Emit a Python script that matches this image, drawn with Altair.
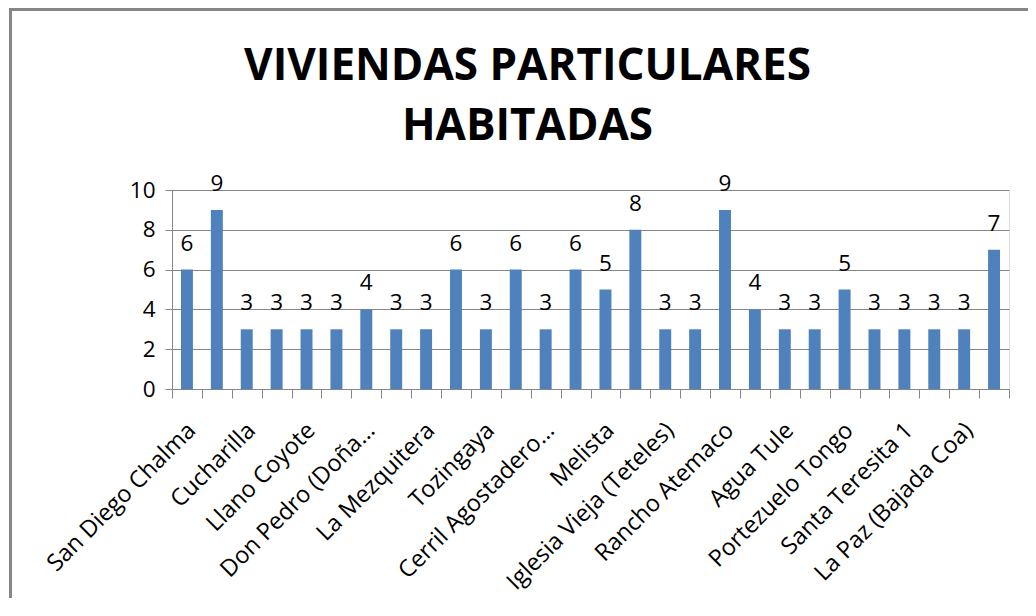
import json
import altair as alt
import pandas as pd

# ---- data ----
valores = [6, 9, 3, 3, 3, 3, 4, 3, 3, 6, 3, 6, 3, 6, 5, 8, 3, 3, 9, 4, 3, 3, 5, 3, 3, 3, 3, 7]
etiquetas = [
    "San Diego Chalma", "", "Cucharilla", "", "Llano Coyote", "",
    "Don Pedro (Doña…", "", "La Mezquitera", "", "Tozingaya", "",
    "Cerril Agostadero…", "", "Melista", "", "Iglesia Vieja (Teteles)", "",
    "Rancho Atemaco", "", "Agua Tule", "", "Portezuelo Tongo", "",
    "Santa Teresita 1", "", "La Paz (Bajada Coa)", "",
]
titulo = ["VIVIENDAS PARTICULARES", "HABITADAS"]
y_ticks = [0, 2, 4, 6, 8, 10]

df = pd.DataFrame({"i": list(range(len(valores))), "v": valores})

FONT = "Open Sans"
GRAY = "#868686"
BLUE = "#4F81BD"

label_expr = json.dumps(etiquetas, ensure_ascii=False) + "[datum.value]"

x_enc = alt.X(
    "i:O",
    scale=alt.Scale(paddingInner=0, paddingOuter=0),
    axis=alt.Axis(
        title=None,
        labelExpr=label_expr,
        labelAngle=-45,
        labelFontSize=23.5,
        labelFont=FONT,
        labelColor="black",
        labelPadding=20,
        labelOffset=-4,
        labelLimit=0,
        tickBand="extent",
        tickSize=9,
        tickColor=GRAY,
        domainColor=GRAY,
        grid=False,
        labelOverlap=False,
    ),
)
y_enc = alt.Y(
    "v:Q",
    scale=alt.Scale(domain=[0, 10], nice=False),
    axis=alt.Axis(
        title=None,
        values=y_ticks,
        labelFontSize=22.5,
        labelFont=FONT,
        labelColor="black",
        labelPadding=10,
        tickSize=7,
        tickColor=GRAY,
        domainColor=GRAY,
        gridColor=GRAY,
        gridWidth=1,
    ),
)

base = alt.Chart(df)
bars = base.mark_bar(color=BLUE, width=alt.RelativeBandSize(0.4)).encode(x=x_enc, y=y_enc)
texts = base.mark_text(
    font=FONT, fontSize=22.5, color="black", baseline="alphabetic", dy=-19
).encode(x=x_enc, y=y_enc, text="v:Q")

frame_df = pd.DataFrame({"k": [0]})
left_border = alt.Chart(frame_df).mark_rule(color=GRAY, strokeWidth=3).encode(
    x=alt.value(-161.5), y=alt.value(-182), y2=alt.value(410)
)
top_border = alt.Chart(frame_df).mark_rule(color=GRAY, strokeWidth=3).encode(
    x=alt.value(-163), x2=alt.value(860), y=alt.value(-180.5)
)

chart = (
    alt.layer(bars, texts, left_border, top_border)
    .properties(
        width=837,
        height=199,
        autosize=alt.AutoSizeParams(type="none"),
        padding={"left": 164, "top": 182, "right": 19, "bottom": 209},
        title=alt.TitleParams(
            text=titulo,
            font=FONT,
            fontSize=44,
            fontWeight="bold",
            color="black",
            anchor="middle",
            dx=-63,
            dy=190,
            offset=48,
            lineHeight=60,
        ),
    )
    .configure_view(stroke=None)
    .configure(background="white")
)

chart.save("out.html", embed_options={"renderer": "svg", "actions": False})
